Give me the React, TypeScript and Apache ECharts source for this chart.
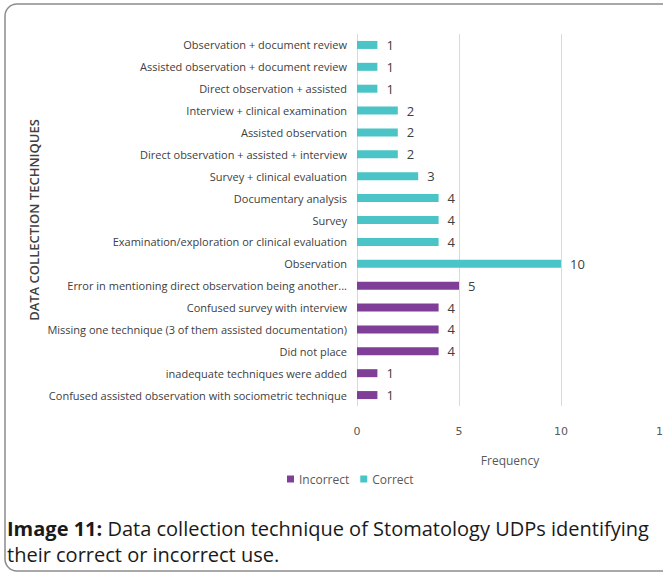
import React, { useEffect, useRef } from "react";
import * as echarts from "echarts";

const categories = [
  "Observation + document review",
  "Assisted observation + document review",
  "Direct observation + assisted",
  "Interview + clinical examination",
  "Assisted observation",
  "Direct observation + assisted + interview",
  "Survey + clinical evaluation",
  "Documentary analysis",
  "Survey",
  "Examination/exploration or clinical evaluation",
  "Observation",
  "Error in mentioning direct observation being another...",
  "Confused survey with interview",
  "Missing one technique (3 of them assisted documentation)",
  "Did not place",
  "inadequate techniques were added",
  "Confused assisted observation with sociometric technique",
];

const correctValues: (number | string)[] = [1, 1, 1, 2, 2, 2, 3, 4, 4, 4, 10, "-", "-", "-", "-", "-", "-"];
const incorrectValues: (number | string)[] = ["-", "-", "-", "-", "-", "-", "-", "-", "-", "-", "-", 5, 4, 4, 4, 1, 1];

const xTicks = { min: 0, max: 15, interval: 5 };

const FONT = "'Liberation Sans Narrow', 'Open Sans', sans-serif";

export default function App() {
  const ref = useRef<HTMLDivElement>(null);
  useEffect(() => {
    document.body.style.margin = "0";
    const chart = echarts.init(ref.current!, undefined, { renderer: "svg" });
    const labelCfg = {
      show: true,
      position: "right" as const,
      distance: 9,
      color: "#404040",
      fontSize: 13,
      fontFamily: "'Open Sans', sans-serif",
    };
    chart.setOption({
      animation: false,
      grid: { left: 357, right: 0, top: 34, bottom: 168, containLabel: false, outerBoundsMode: "none" },
      legend: {
        data: ["Incorrect", "Correct"],
        bottom: 84,
        left: 282,
        itemWidth: 7,
        itemHeight: 7,
        itemGap: 11,
        icon: "rect",
        textStyle: { color: "#595959", fontSize: 12, fontFamily: "'Open Sans', sans-serif" },
      },
      xAxis: {
        type: "value",
        min: xTicks.min,
        max: xTicks.max,
        interval: xTicks.interval,
        name: "Frequency",
        nameLocation: "middle",
        nameGap: 48,
        nameTextStyle: { color: "#595959", fontSize: 12, fontFamily: "'Open Sans', sans-serif" },
        axisLine: { show: false },
        axisTick: { show: false },
        axisLabel: { color: "#595959", fontSize: 11, margin: 20, fontFamily: "'DejaVu Sans', sans-serif", showMaxLabel: true },
        splitLine: { lineStyle: { color: "#d9d9d9", width: 1 } },
      },
      yAxis: {
        type: "category",
        data: categories,
        inverse: true,
        name: "DATA COLLECTION TECHNIQUES",
        nameLocation: "middle",
        nameRotate: 90,
        nameGap: 317,
        nameTextStyle: { color: "#404040", fontSize: 13, fontWeight: 600, fontFamily: "'Open Sans', sans-serif" },
        axisLine: { show: false },
        axisTick: { show: false },
        axisLabel: { color: "#404040", fontSize: 11, margin: 10, fontFamily: FONT },
      },
      series: [
        {
          name: "Incorrect",
          type: "bar",
          stack: "all",
          data: incorrectValues,
          barWidth: 8,
          itemStyle: { color: "#7f3f98" },
          label: labelCfg,
        },
        {
          name: "Correct",
          type: "bar",
          stack: "all",
          data: correctValues,
          barWidth: 8,
          itemStyle: { color: "#4bc4c7" },
          label: labelCfg,
        },
      ],
      graphic: [
        {
          type: "rect",
          shape: { x: 5, y: 4, width: 720, height: 567, r: 12 },
          style: { fill: "none", stroke: "#8c8c8c", lineWidth: 1.5 },
          silent: true,
        },
        {
          type: "text",
          x: 7,
          y: 515,
          style: {
            text: "{b|Image 11:} Data collection technique of Stomatology UDPs identifying\ntheir correct or incorrect use.",
            fontSize: 20,
            lineHeight: 26,
            fill: "#1a1a1a",
            fontFamily: "'Open Sans', sans-serif",
            rich: {
              b: { fontWeight: "bold", fontSize: 20, lineHeight: 26, fontFamily: "'Open Sans', sans-serif", fill: "#1a1a1a" },
            },
          },
        },
      ],
    });
    return () => chart.dispose();
  }, []);
  return <div ref={ref} style={{ width: 663, height: 574 }} />;
}
